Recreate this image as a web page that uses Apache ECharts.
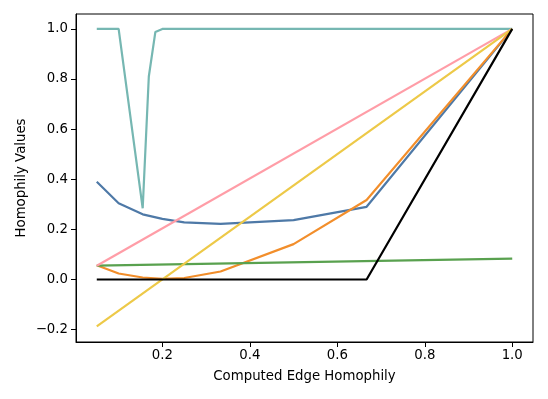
<!DOCTYPE html>
<html>
<head>
<meta charset="utf-8">
<script src="https://cdn.jsdelivr.net/npm/echarts@6/dist/echarts.min.js"></script>
<style>
  html, body { margin: 0; padding: 0; background: #fff; }
  #chart { width: 548px; height: 399px; }
</style>
</head>
<body>
<div id="chart"></div>
<script>
// values
var xTicks = [0.2, 0.4, 0.6, 0.8, 1.0]
var yTicks = [-0.2, 0.0, 0.2, 0.4, 0.6, 0.8, 1.0]

var blueData = [[0.05, 0.39], [0.1, 0.304], [0.155, 0.26], [0.2, 0.242], [0.25, 0.228], [0.333, 0.222], [0.5, 0.237], [0.667, 0.29], [1.0, 1.0]]
var orangeData = [[0.05, 0.057], [0.1, 0.024], [0.155, 0.008], [0.2, 0.003], [0.25, 0.006], [0.333, 0.032], [0.5, 0.141], [0.667, 0.317], [1.0, 1.0]]
var greenData = [[0.05, 0.055], [1.0, 0.083]]
var tealData = [[0.05, 1.0], [0.1, 1.0], [0.155, 0.284], [0.169, 0.81], [0.184, 0.988], [0.2, 1.0], [1.0, 1.0]]
var pinkData = [[0.05, 0.055], [1.0, 1.0]]
var yellowData = [[0.05, -0.1875], [1.0, 1.0]]
var blackData = [[0.05, 0.0], [0.667, 0.0], [1.0, 1.0]]

var font = 'DejaVu Sans'
var fs = 13.3

function line (name, data, color, width) {
  return {
    name: name,
    type: 'line',
    data: data,
    symbol: 'none',
    smooth: false,
    lineStyle: { color: color, width: width || 2.2 },
    emphasis: { disabled: true }
  }
}

var chart = echarts.init(document.getElementById('chart'))
chart.setOption({
  animation: false,
  grid: {
    left: 76,
    right: 15,
    top: 14,
    bottom: 57,
    show: true,
    borderColor: '#000',
    borderWidth: 1,
    backgroundColor: 'transparent'
  },
  xAxis: {
    type: 'value',
    min: 0.0025,
    max: 1.0475,
    name: 'Computed Edge Homophily',
    nameLocation: 'middle',
    nameGap: 28.5,
    nameMoveOverlap: false,
    nameTextStyle: { color: '#000', fontFamily: font, fontSize: fs },
    axisLine: { show: true, onZero: false, lineStyle: { color: '#000', width: 1 } },
    axisTick: { show: true, length: 5, customValues: xTicks, lineStyle: { color: '#000', width: 1 } },
    axisLabel: {
      customValues: xTicks,
      color: '#000',
      fontFamily: font,
      fontSize: fs,
      margin: 7,
      formatter: function (v) { return v.toFixed(1) }
    },
    splitLine: { show: false }
  },
  yAxis: {
    type: 'value',
    min: -0.2495,
    max: 1.0595,
    name: 'Homophily Values',
    nameLocation: 'middle',
    nameGap: 48,
    nameMoveOverlap: false,
    nameTextStyle: { color: '#000', fontFamily: font, fontSize: fs },
    axisLine: { show: true, onZero: false, lineStyle: { color: '#000', width: 1 } },
    axisTick: { show: true, length: 5, customValues: yTicks, lineStyle: { color: '#000', width: 1 } },
    axisLabel: {
      customValues: yTicks,
      color: '#000',
      fontFamily: font,
      fontSize: fs,
      margin: 8,
      formatter: function (v) { return v.toFixed(1).replace('-', '\u2212') }
    },
    splitLine: { show: false }
  },
  series: [
    line('blue', blueData, '#4e79a7'),
    line('orange', orangeData, '#f28e2b'),
    line('green', greenData, '#59a14f'),
    line('teal', tealData, '#76b7b2'),
    line('pink', pinkData, '#ff9da7'),
    line('yellow', yellowData, '#edc948'),
    line('black', blackData, '#000', 2.2)
  ]
})
</script>
</body>
</html>
